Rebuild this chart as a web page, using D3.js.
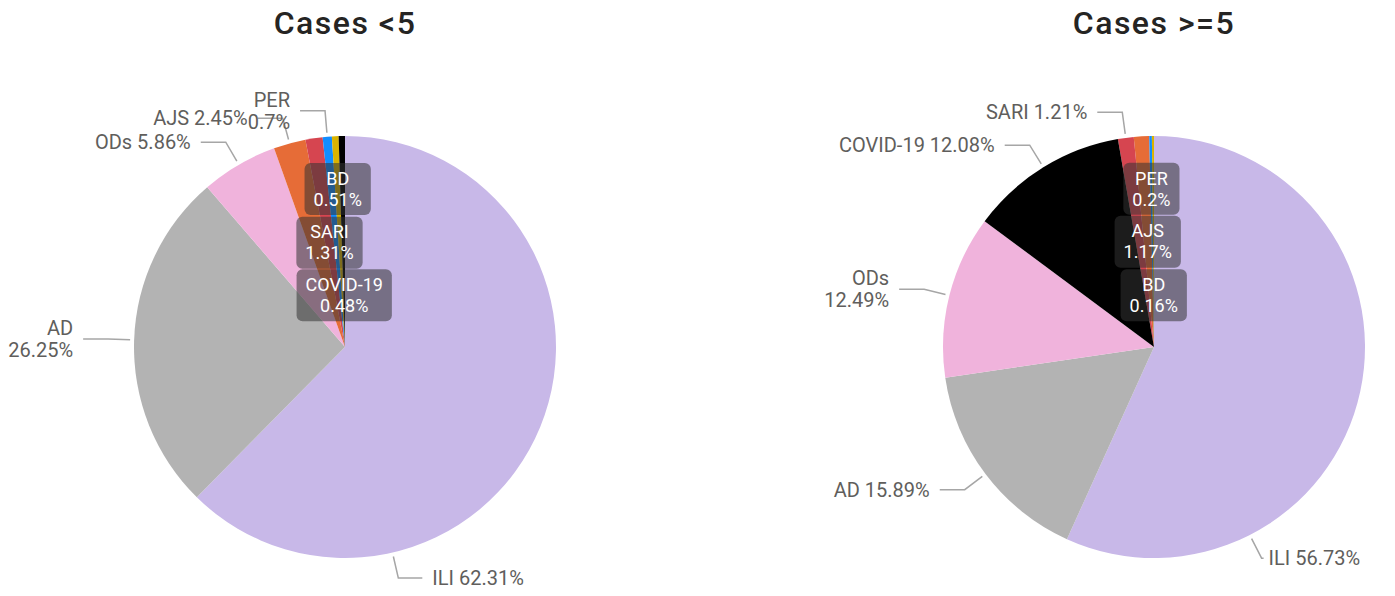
<!DOCTYPE html>
<html>
<head>
<meta charset="utf-8">
<script src="https://cdn.jsdelivr.net/npm/d3@7"></script>
<style>
  html, body { margin: 0; padding: 0; background: #fff; }
  svg { display: block; font-family: Roboto, "Noto Sans", sans-serif; }
</style>
</head>
<body>
<svg id="chart" width="1395" height="596"></svg>
<script>
// ---- data ----
const categories = ["ILI", "AD", "ODs", "AJS", "SARI", "PER", "BD", "COVID-19"];
const casesUnder5 = [62.31, 26.25, 5.86, 2.45, 1.31, 0.7, 0.51, 0.48];
const casesOver5  = [56.73, 15.89, 12.49, 1.17, 1.21, 0.2, 0.16, 12.08];
const chartTitles = ["Cases <5", "Cases >=5"];
const categoryColors = ["#C8B8E8", "#B3B3B3", "#F0B3DC", "#E66C37", "#D64550", "#118DFF", "#D9B300", "#000000"];

// ---- layout (label placement, not data) ----
const labelLayouts = [
  {
    "ILI": {type: "out", lines: 1, angle: 167, hLen: 24},
    "AD": {type: "out", lines: 2},
    "ODs": {type: "out", lines: 1},
    "AJS": {type: "out", lines: 1},
    "SARI": {type: "in", rf: 0.5},
    "PER": {type: "out", lines: 2},
    "BD": {type: "in", rf: 0.75},
    "COVID-19": {type: "in", rf: 0.245}
  },
  {
    "ILI": {type: "out", lines: 1, angle: 153, hLen: 2},
    "AD": {type: "out", lines: 1},
    "ODs": {type: "out", lines: 2},
    "AJS": {type: "in", rf: 0.5},
    "SARI": {type: "out", lines: 1},
    "PER": {type: "in", rf: 0.75},
    "BD": {type: "in", rf: 0.245},
    "COVID-19": {type: "out", lines: 1}
  }
];

const svg = d3.select("#chart");
const centersX = [345, 1154];
const cy = 347;
const R = 211;
const color = d3.scaleOrdinal().domain(categories).range(categoryColors);

const pie = d3.pie().value(d => d.v).sort((a, b) => b.v - a.v);
const arc = d3.arc().innerRadius(0).outerRadius(R);

[casesUnder5, casesOver5].forEach((vals, ci) => {
  const data = categories.map((c, i) => ({c, v: vals[i]}));
  const arcs = pie(data);
  const g = svg.append("g").attr("transform", `translate(${centersX[ci]},${cy})`);
  const layout = labelLayouts[ci];

  // title
  svg.append("text")
    .attr("x", centersX[ci]).attr("y", 34)
    .attr("text-anchor", "middle")
    .attr("font-size", 32).attr("font-weight", 500)
    .attr("letter-spacing", 1.5)
    .attr("fill", "#252423")
    .text(chartTitles[ci]);

  g.selectAll("path.slice").data(arcs).enter().append("path")
    .attr("class", "slice")
    .attr("d", arc)
    .attr("fill", d => color(d.data.c));

  const pointAt = (ang, rad) => [rad * Math.sin(ang), -rad * Math.cos(ang)];

  // outside labels
  arcs.forEach(d => {
    const L = layout[d.data.c];
    if (L.type !== "out") return;
    const mid = L.angle !== undefined ? L.angle * Math.PI / 180 : (d.startAngle + d.endAngle) / 2;
    const p0 = pointAt(mid, R + 4);
    const p1 = pointAt(mid, R + 26);
    const side = p1[0] < 0 ? -1 : 1;
    const hLen = L.hLen !== undefined ? L.hLen : 25;
    const p2 = [p1[0] + side * hLen, p1[1]];
    g.append("polyline")
      .attr("points", [p0, p1, p2].map(p => p.join(",")).join(" "))
      .attr("fill", "none").attr("stroke", "#A6A6A6").attr("stroke-width", 1.5);
    const tx = p2[0] + side * (L.hLen !== undefined && L.hLen < 10 ? 5 : 10);
    const t = g.append("text")
      .attr("text-anchor", side < 0 ? "end" : "start")
      .attr("font-size", 20).attr("fill", "#605E5C");
    const label = `${d.data.c} ${d.data.v}%`;
    if (L.lines === 2) {
      t.append("tspan").attr("x", tx).attr("y", p1[1] - 11).attr("dy", "0.35em").text(d.data.c);
      t.append("tspan").attr("x", tx).attr("y", p1[1] + 11).attr("dy", "0.35em").text(`${d.data.v}%`);
    } else {
      t.attr("x", tx).attr("y", p1[1]).attr("dy", "0.35em").text(label);
    }
  });

  // inside labels
  arcs.forEach(d => {
    const L = layout[d.data.c];
    if (L.type !== "in") return;
    const mid = (d.startAngle + d.endAngle) / 2;
    const p = pointAt(mid, R * L.rf);
    const lg = g.append("g").attr("transform", `translate(${p[0]},${p[1]})`);
    const rect = lg.append("rect").attr("fill", "#333333").attr("fill-opacity", 0.55).attr("rx", 6);
    const t = lg.append("text").attr("text-anchor", "middle").attr("font-size", 18).attr("fill", "#FFFFFF");
    t.append("tspan").attr("x", 0).attr("y", -10.5).attr("dy", "0.35em").text(d.data.c);
    t.append("tspan").attr("x", 0).attr("y", 10.5).attr("dy", "0.35em").text(`${d.data.v}%`);
    const w = t.node().getBBox().width + 18;
    rect.attr("x", -w / 2).attr("y", -26).attr("width", w).attr("height", 52);
  });
});
</script>
</body>
</html>
